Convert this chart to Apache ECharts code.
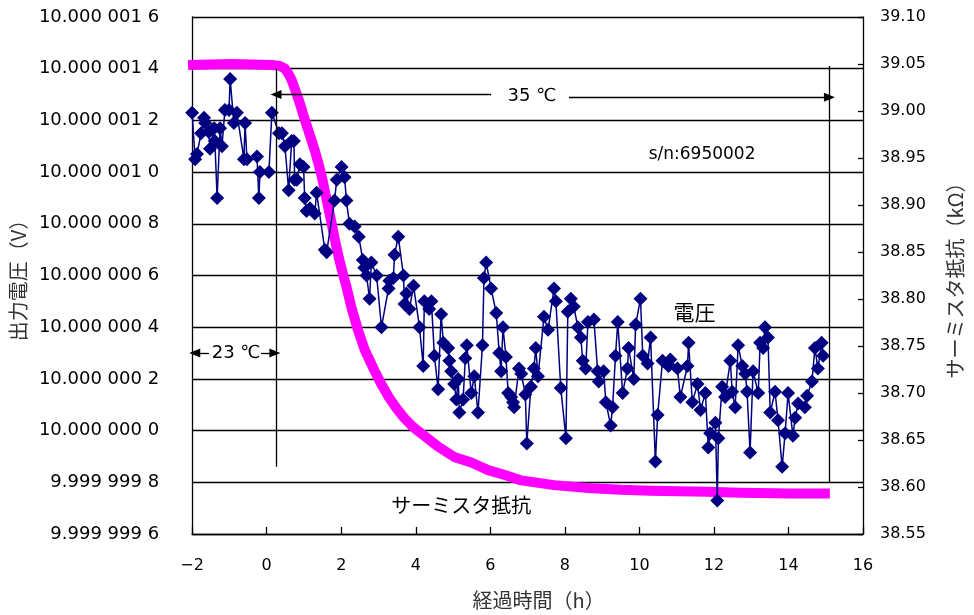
<!DOCTYPE html>
<html>
<head>
<meta charset="utf-8">
<script src="https://cdn.jsdelivr.net/npm/echarts@6/dist/echarts.min.js"></script>
<style>
  html, body { margin: 0; padding: 0; background: #fff; }
  #chart { width: 974px; height: 615px; }
</style>
</head>
<body>
<div id="chart"></div>
<script>
// Nominal output of the reference source (V); voltage samples are stored as deviation in µV
const NOMINAL_V = 10;

// Elapsed time (h) of each voltage reading
const voltHours = [
  -2.00, -1.92, -1.87, -1.76, -1.68, -1.65, -1.55, -1.52, -1.41, -1.39,
  -1.33, -1.25, -1.20, -1.12, -1.01, -0.98, -0.88, -0.80, -0.61, -0.58,
  -0.53, -0.26, -0.21, -0.18, 0.06, 0.14, 0.33, 0.41, 0.49, 0.59,
  0.67, 0.73, 0.75, 0.81, 0.89, 0.99, 1.02, 1.07, 1.16, 1.29,
  1.34, 1.56, 1.61, 1.82, 1.88, 2.01, 2.09, 2.14, 2.22, 2.36,
  2.47, 2.58, 2.62, 2.68, 2.76, 2.81, 2.95, 3.08, 3.27, 3.29,
  3.40, 3.43, 3.53, 3.67, 3.70, 3.75, 3.83, 3.94, 4.10, 4.20,
  4.23, 4.36, 4.42, 4.50, 4.60, 4.68, 4.74, 4.87, 4.90, 4.95,
  5.03, 5.09, 5.14, 5.17, 5.27, 5.33, 5.37, 5.49, 5.57, 5.67,
  5.79, 5.83, 5.89, 6.02, 6.16, 6.24, 6.29, 6.34, 6.42, 6.48,
  6.56, 6.61, 6.64, 6.77, 6.83, 6.94, 6.98, 7.09, 7.17, 7.22,
  7.28, 7.44, 7.55, 7.71, 7.76, 7.89, 8.03, 8.08, 8.16, 8.24,
  8.35, 8.43, 8.48, 8.56, 8.62, 8.78, 8.88, 8.91, 9.04, 9.10,
  9.23, 9.28, 9.36, 9.42, 9.55, 9.68, 9.71, 9.85, 9.90, 10.03,
  10.09, 10.22, 10.30, 10.43, 10.49, 10.62, 10.78, 10.83, 11.02, 11.10,
  11.29, 11.32, 11.42, 11.56, 11.64, 11.77, 11.85, 11.90, 12.04, 12.09,
  12.12, 12.22, 12.30, 12.44, 12.49, 12.57, 12.65, 12.76, 12.84, 12.89,
  12.97, 13.05, 13.19, 13.24, 13.32, 13.37, 13.45, 13.51, 13.64, 13.72,
  13.83, 13.91, 13.99, 14.12, 14.18, 14.26, 14.44, 14.50, 14.63, 14.71,
  14.79, 14.89, 14.93
];

// Output voltage deviation from 10 V (µV)
const voltOffsetUV = [
  1.23, 1.05, 1.07, 1.15, 1.21, 1.19, 1.155, 1.09, 1.17, 1.12,
  0.90, 1.17, 1.10, 1.24, 1.24, 1.36, 1.19, 1.23, 1.05, 1.19,
  1.05, 1.06, 0.90, 1.00, 1.00, 1.23, 1.15, 1.15, 1.10, 0.93,
  1.12, 1.12, 0.97, 0.97, 1.03, 1.02, 0.90, 0.85, 0.86, 0.84,
  0.92, 0.70, 0.69, 0.89, 0.97, 1.02, 0.98, 0.89, 0.80, 0.79,
  0.75, 0.66, 0.63, 0.60, 0.51, 0.65, 0.60, 0.40, 0.55, 0.58,
  0.59, 0.68, 0.75, 0.60, 0.49, 0.53, 0.47, 0.56, 0.40, 0.25,
  0.50, 0.47, 0.50, 0.29, 0.16, 0.45, 0.34, 0.32, 0.27, 0.23,
  0.18, 0.12, 0.20, 0.07, 0.12, 0.28, 0.33, 0.145, 0.21, 0.07,
  0.33, 0.59, 0.65, 0.55, 0.455, 0.30, 0.23, 0.40, 0.285, 0.145,
  0.13, 0.11, 0.09, 0.24, 0.22, 0.14, -0.05, 0.17, 0.24, 0.32,
  0.21, 0.44, 0.39, 0.55, 0.50, 0.165, -0.03, 0.46, 0.51, 0.48,
  0.40, 0.36, 0.27, 0.24, 0.42, 0.43, 0.23, 0.19, 0.23, 0.11,
  0.02, 0.09, 0.29, 0.42, 0.145, 0.24, 0.32, 0.20, 0.41, 0.51,
  0.29, 0.26, 0.36, -0.12, 0.06, 0.27, 0.25, 0.275, 0.24, 0.13,
  0.25, 0.34, 0.11, 0.18, 0.08, 0.145, -0.065, -0.01, 0.03, -0.27,
  -0.03, 0.17, 0.13, 0.27, 0.15, 0.09, 0.33, 0.25, 0.22, 0.15,
  -0.085, 0.23, 0.145, 0.34, 0.32, 0.40, 0.36, 0.07, 0.15, 0.04,
  -0.14, -0.01, 0.145, -0.02, 0.05, 0.105, 0.09, 0.135, 0.19, 0.32,
  0.24, 0.34, 0.29
];

// Thermistor resistance (kΩ) against elapsed time (h)
const thermHours = [
  -2.11, -0.93, 0.14, 0.35, 0.49, 0.58, 0.67, 0.76, 0.86, 0.96,
  1.07, 1.18, 1.29, 1.39, 1.48, 1.56, 1.65, 1.74, 1.83, 1.93,
  2.03, 2.14, 2.28, 2.45, 2.63, 2.89, 3.08, 3.27, 3.48, 3.70,
  3.92, 4.15, 4.60, 5.03, 5.49, 5.94, 6.37, 6.83, 7.71, 8.62,
  9.50, 10.30, 11.82, 12.71, 14.04, 15.11
];
const thermKOhm = [
  39.049, 39.050, 39.049, 39.048, 39.045, 39.040, 39.033, 39.023, 39.012, 38.999,
  38.985, 38.972, 38.958, 38.944, 38.930, 38.915, 38.898, 38.881, 38.863, 38.845,
  38.829, 38.813, 38.790, 38.767, 38.746, 38.724, 38.709, 38.696, 38.684, 38.673,
  38.664, 38.657, 38.643, 38.632, 38.626, 38.618, 38.613, 38.607, 38.602, 38.599,
  38.597, 38.596, 38.595, 38.594, 38.593, 38.593
];

// Temperature step: 23 °C until the change-over, 35 °C afterwards
const stepStartH = 0.25;
const runEndH = 15.1;

// Axis ranges
const xRange = { min: -2, max: 16, step: 2 };
const voltRangeUV = { min: -0.4, max: 1.6, step: 0.2 };
const resRange = { min: 38.55, max: 39.10, step: 0.05 };

const LATIN = "'DejaVu Sans', 'Noto Sans CJK JP', sans-serif";
const CJK = "'Noto Sans CJK JP', sans-serif";

function voltLabel(uv) {
  const s = (NOMINAL_V + uv / 1e6).toFixed(7);
  const [ip, dp] = s.split('.');
  return ip + '.' + dp.slice(0, 3) + ' ' + dp.slice(3, 6) + ' ' + dp.slice(6);
}

const voltData = voltHours.map((h, i) => [h, voltOffsetUV[i]]);
const thermData = thermHours.map((h, i) => [h, thermKOhm[i]]);

const lineBlack = { color: '#000', width: 1.3 };
function seg(a, b, endSymbol) {
  return [{ coord: a, symbol: 'none' }, { coord: b, symbol: endSymbol }];
}

const chart = echarts.init(document.getElementById('chart'), null, { renderer: 'canvas' });

const option = {
  animation: false,
  backgroundColor: '#fff',
  grid: { left: 190, right: 111, top: 17, bottom: 81, containLabel: false },
  xAxis: {
    type: 'value',
    min: xRange.min, max: xRange.max, interval: xRange.step,
    name: '経過時間（h）',
    nameLocation: 'middle',
    nameGap: 56,
    nameTextStyle: { fontFamily: CJK, fontSize: 20, color: '#333', padding: [0, 0, 0, 22] },
    axisLine: { show: true, onZero: false, lineStyle: lineBlack },
    axisTick: { show: true, inside: true, length: 7, lineStyle: lineBlack },
    axisLabel: {
      fontFamily: LATIN, fontSize: 16, color: '#000', margin: 24,
      formatter: v => (v < 0 ? '\u2212' + Math.abs(v) : String(v))
    },
    splitLine: { show: false }
  },
  yAxis: [
    {
      type: 'value',
      position: 'left',
      min: voltRangeUV.min, max: voltRangeUV.max, interval: voltRangeUV.step,
      name: '出力電圧（V）',
      nameLocation: 'middle',
      nameRotate: 90,
      nameGap: 158,
      nameTextStyle: { fontFamily: CJK, fontSize: 20, color: '#333' },
      axisLine: { show: true, onZero: false, lineStyle: lineBlack },
      axisTick: { show: false },
      axisLabel: { fontFamily: LATIN, fontSize: 18, color: '#000', margin: 33, formatter: voltLabel },
      splitLine: { show: true, lineStyle: { color: '#000', width: 1.3 } }
    },
    {
      type: 'value',
      position: 'right',
      min: resRange.min, max: resRange.max, interval: resRange.step,
      name: 'サーミスタ抵抗（kΩ）',
      nameLocation: 'middle',
      nameRotate: 90,
      nameGap: 82,
      nameTextStyle: { fontFamily: CJK, fontSize: 20, color: '#333' },
      axisLine: { show: true, onZero: false, lineStyle: lineBlack },
      axisTick: { show: true, inside: true, length: 5, lineStyle: lineBlack },
      axisLabel: { fontFamily: LATIN, fontSize: 16, color: '#000', margin: 17, formatter: v => v.toFixed(2) },
      splitLine: { show: false }
    }
  ],
  series: [
    {
      name: 'サーミスタ抵抗',
      type: 'line',
      yAxisIndex: 1,
      data: thermData,
      clip: false,
      showSymbol: false,
      smooth: false,
      lineStyle: { color: '#FF00FF', width: 10, cap: 'butt', join: 'round' },
      itemStyle: { color: '#FF00FF' },
      emphasis: { disabled: true },
      z: 2
    },
    {
      name: '電圧',
      type: 'line',
      yAxisIndex: 0,
      data: voltData,
      clip: false,
      symbol: 'diamond',
      symbolSize: 14,
      showAllSymbol: true,
      lineStyle: { color: '#000080', width: 1.5 },
      itemStyle: { color: '#000080' },
      emphasis: { disabled: true },
      z: 3,
      markLine: {
        silent: true,
        animation: false,
        symbolSize: [9, 11],
        label: { show: false },
        emphasis: { disabled: true },
        lineStyle: { color: '#000', width: 1.3, type: 'solid' },
        data: [
          // change-over and end-of-run markers
          seg([stepStartH, 1.40], [stepStartH, -0.14], 'none'),
          seg([runEndH, 1.41], [runEndH, -0.20], 'none'),
          // 35 °C span
          seg([6.02, 1.30], [stepStartH, 1.30], 'triangle'),
          seg([8.11, 1.29], [runEndH, 1.29], 'triangle'),
          // 23 °C span
          seg([-1.55, 0.30], [-1.93, 0.30], 'triangle'),
          seg([-0.15, 0.30], [0.22, 0.30], 'triangle')
        ]
      }
    }
  ]
};

chart.setOption(option);

// Annotation texts placed in data coordinates
const notes = [
  { at: [7.12, 1.295], text: '35 \u2103', font: LATIN, size: 18, align: 'center' },
  { at: [-0.82, 0.30], text: '23 \u2103', font: LATIN, size: 18, align: 'center' },
  { at: [10.25, 1.066], text: 's/n:6950002', font: LATIN, size: 17, align: 'left' },
  { at: [11.48, 0.459], text: '電圧', font: CJK, size: 21, align: 'center' },
  { at: [5.22, -0.288], text: 'サーミスタ抵抗', font: CJK, size: 20, align: 'center' }
];
chart.setOption({
  graphic: notes.map(n => {
    const p = chart.convertToPixel({ xAxisIndex: 0, yAxisIndex: 0 }, n.at);
    return {
      type: 'text', x: p[0], y: p[1], z: 100, silent: true,
      style: {
        text: n.text, fill: '#000', font: n.size + 'px ' + n.font,
        align: n.align, verticalAlign: 'middle'
      }
    };
  })
});
</script>
</body>
</html>
